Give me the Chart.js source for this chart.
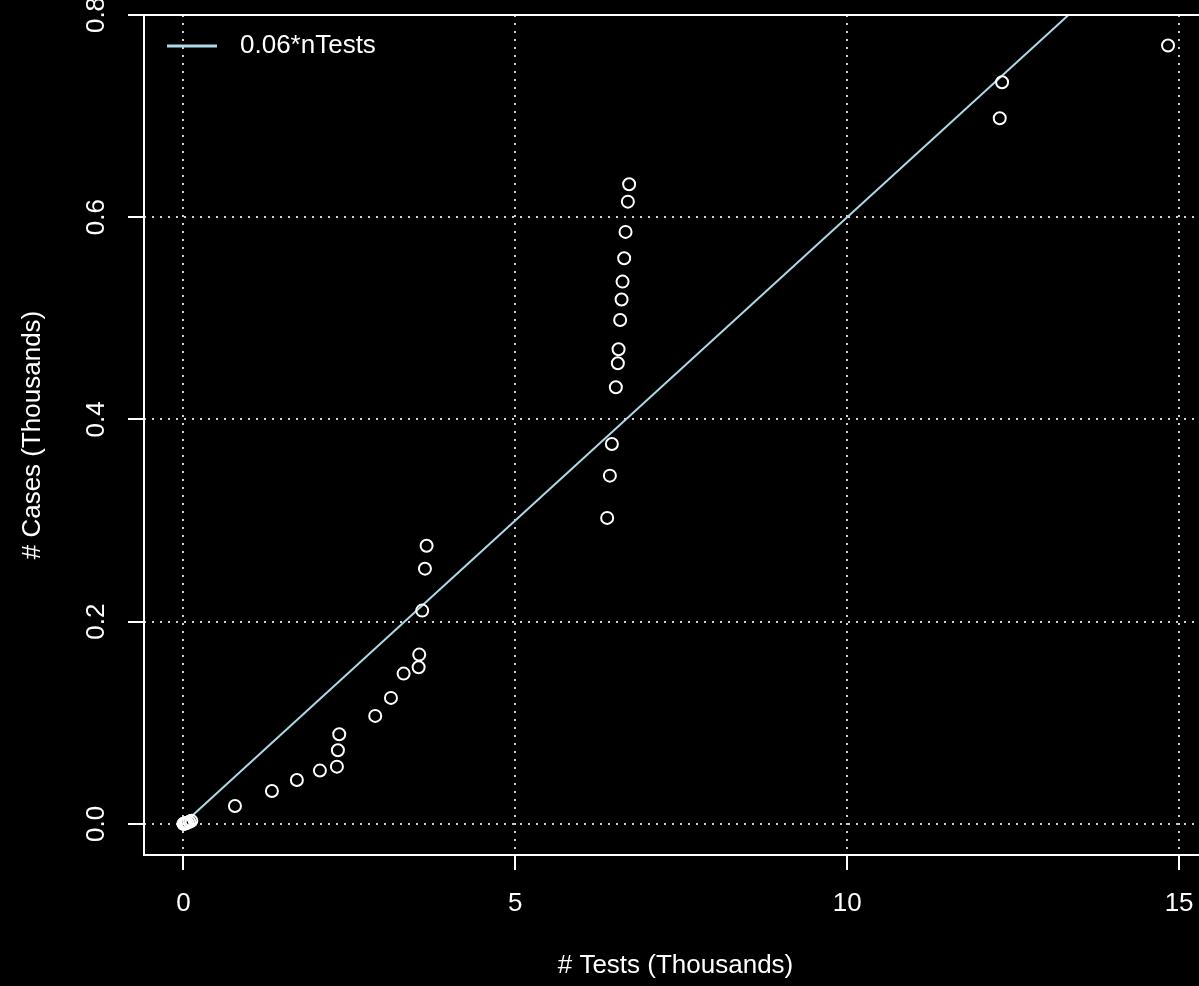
<!DOCTYPE html>
<html>
<head>
<meta charset="utf-8">
<script src="https://cdn.jsdelivr.net/npm/chart.js@4"></script>
<style>
  html, body { margin: 0; padding: 0; background: #000; overflow: hidden; }
  #wrap { width: 1240px; height: 986px; position: relative; }
</style>
</head>
<body>
<div id="wrap"><canvas id="casesChart"></canvas></div>
<script>
// tests vs cases, both in thousands
var testsK = [0, 0.01, 0.02, 0.04, 0.06, 0.09, 0.12,
	0.777, 1.334, 1.71, 2.057, 2.313, 2.328, 2.348, 2.89, 3.127, 3.318, 3.544, 3.553, 3.598, 3.639, 3.664,
	6.384, 6.425, 6.455, 6.515, 6.545, 6.556, 6.58, 6.601, 6.616, 6.64, 6.661, 6.696, 6.715,
	12.298, 12.333, 14.833];
var casesK = [0, 0, 0.0003, 0.0008, 0.0012, 0.002, 0.003,
	0.0177, 0.0325, 0.0434, 0.0527, 0.0566, 0.0728, 0.0886, 0.1068, 0.1246, 0.1486, 0.1549, 0.1674, 0.2109, 0.2524, 0.275,
	0.3026, 0.3444, 0.3757, 0.4318, 0.4556, 0.4694, 0.4984, 0.5186, 0.5363, 0.5594, 0.5855, 0.6154, 0.6326,
	0.6979, 0.7335, 0.7698];

// fitted line 0.06*nTests, end points
var fitX = [0, 15.42];
var fitY = [0, 0.9252];
var fitLabel = '0.06*nTests';

var xTicks = [0, 5, 10, 15];
var yTicks = [0.0, 0.2, 0.4, 0.6, 0.8];

var FONT = '"Liberation Sans", Arial, sans-serif';

var pts = testsK.map(function(v, i) { return {x: v, y: casesK[i]}; });
var fit = fitX.map(function(v, i) { return {x: v, y: fitY[i]}; });

// R style frame (left, top, bottom) and legend
var framePlugin = {
	id: 'frame',
	afterDraw: function(chart) {
		var a = chart.chartArea, ctx = chart.ctx;
		ctx.save();
		ctx.strokeStyle = '#fff';
		ctx.lineWidth = 2;
		ctx.beginPath();
		ctx.moveTo(a.right + 20, a.top);
		ctx.lineTo(a.left, a.top);
		ctx.lineTo(a.left, a.bottom);
		ctx.lineTo(a.right + 20, a.bottom);
		ctx.stroke();
		// legend
		var ds = chart.data.datasets[1];
		var ly = a.top + 31;
		ctx.strokeStyle = ds.borderColor;
		ctx.lineWidth = 3;
		ctx.beginPath();
		ctx.moveTo(a.left + 23, ly);
		ctx.lineTo(a.left + 73, ly);
		ctx.stroke();
		ctx.fillStyle = '#fff';
		ctx.font = '26px ' + FONT;
		ctx.textBaseline = 'middle';
		ctx.fillText(ds.label, a.left + 96, ly);
		ctx.restore();
	}
};

var ctx = document.getElementById('casesChart');
var myChart = new Chart(ctx, {
	type: 'scatter',
	data: {
		datasets: [
			{
				label: 'cases',
				data: pts,
				pointRadius: 6,
				pointHoverRadius: 6,
				borderColor: '#fff',
				backgroundColor: 'rgba(0,0,0,0)',
				borderWidth: 2
			},
			{
				type: 'line',
				label: fitLabel,
				data: fit,
				borderColor: '#add8e6',
				borderWidth: 2,
				pointRadius: 0,
				fill: false
			}
		]
	},
	options: {
		responsive: true,
		maintainAspectRatio: false,
		animation: false,
		layout: { padding: { top: 15, right: 33, left: 0, bottom: 0 } },
		plugins: { legend: { display: false }, tooltip: { enabled: false } },
		scales: {
			x: {
				type: 'linear',
				min: -0.593,
				max: 15.42,
				afterBuildTicks: function(s) { s.ticks = xTicks.map(function(v) { return {value: v}; }); },
				afterFit: function(s) { s.height = 131; s.paddingLeft = 0; s.paddingRight = 0; },
				ticks: { color: '#fff', font: { size: 26, family: FONT }, padding: 18, maxRotation: 0 },
				grid: { color: '#cfcfcf', lineWidth: 2, tickColor: '#fff', tickWidth: 2, tickLength: 15 },
				border: { display: false, dash: [2, 6] },
				title: { display: true, text: '# Tests (Thousands)', color: '#fff', font: { size: 26, family: FONT }, padding: { top: 0, bottom: 5 } }
			},
			y: {
				type: 'linear',
				min: -0.0308,
				max: 0.8,
				afterBuildTicks: function(s) { s.ticks = yTicks.map(function(v) { return {value: v}; }); },
				afterFit: function(s) { s.width = 144; s.paddingTop = 0; s.paddingBottom = 0; },
				ticks: {
					color: '#fff', font: { size: 26, family: FONT }, padding: 13,
					minRotation: 90, maxRotation: 90, crossAlign: 'center',
					callback: function(v) { return v.toFixed(1); }
				},
				grid: { color: '#cfcfcf', lineWidth: 2, tickColor: '#fff', tickWidth: 2, tickLength: 16 },
				border: { display: false, dash: [2, 6] },
				title: { display: true, text: '# Cases (Thousands)', color: '#fff', font: { size: 26, family: FONT }, padding: { top: 17, bottom: 0 } }
			}
		}
	},
	plugins: [framePlugin]
});
</script>
</body>
</html>
